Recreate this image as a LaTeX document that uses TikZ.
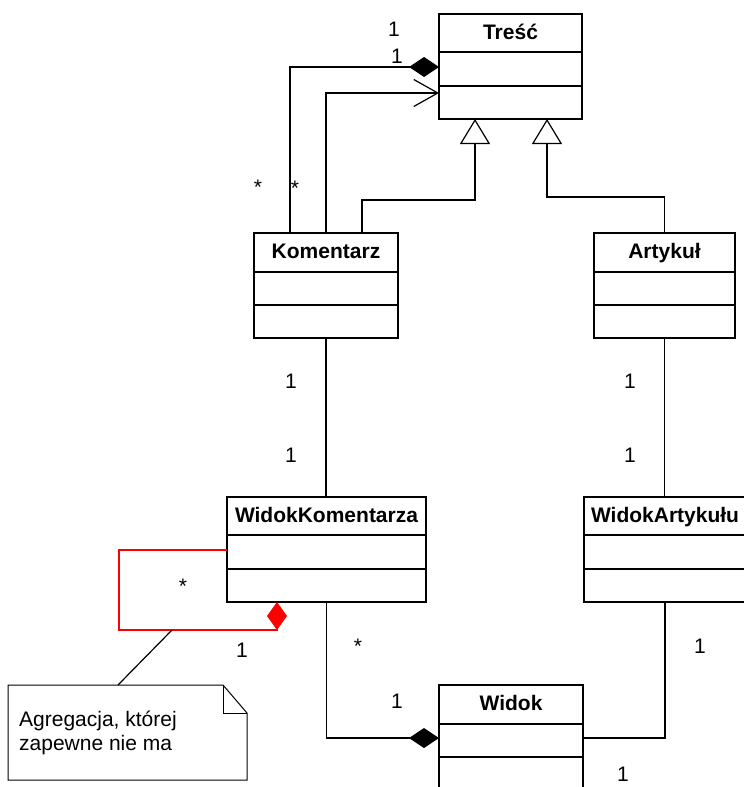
\documentclass[tikz,border=0pt]{standalone}
\usepackage{fontspec}
\setmainfont{Liberation Sans}
\usetikzlibrary{arrows.meta,fit}

\tikzset{
  boxline/.style={draw=black, line width=1.5pt},
  clsbox/.style={boxline, fill=white, inner sep=0pt, outer sep=0pt},
  clstitle/.style={font=\fontsize{21}{24}\selectfont\bfseries, inner sep=0pt, anchor=base},
  conn/.style={draw=black, line width=1.2pt},
  mult/.style={font=\fontsize{21}{24}\selectfont, inner sep=0pt, anchor=base},
  composite/.style={conn, -{Diamond[length=30pt, width=20pt, fill=black]}},
  navig/.style={conn, -{Straight Barb[length=24pt, width=27pt]}},
  general/.style={conn, -{Triangle[open, length=25pt, width=30pt, fill=white]}},
  aggred/.style={draw=red, line width=1.2pt, -{Diamond[length=28pt, width=20pt, fill=red]}},
  noteline/.style={draw=black, line width=1pt},
  notetext/.style={font=\fontsize{21}{24}\selectfont, align=left, inner sep=0pt},
}

% class box: name, left, top, right, first rule, second rule, bottom, title
\newcommand{\umlclass}[8]{%
  \node[clsbox, fit={(#2,#3)(#4,#7)}] (#1) {};
  \node[clstitle] (#1-title) at ({(#2+#4)/2},{#3+25.5}) {#8};
  \draw[boxline] (#1.west |- 0,#5) -- (#1.east |- 0,#5);
  \draw[boxline] (#1.west |- 0,#6) -- (#1.east |- 0,#6);
}

\begin{document}
\begin{tikzpicture}[x=1pt, y=-1pt]
\useasboundingbox (0,0) rectangle (744,787);
\clip (0,0) rectangle (744,787);

% classes
\umlclass{tresc}{439}{14}{582}{52}{86}{119}{Treść}
\umlclass{komentarz}{254}{233}{398}{272}{305}{338}{Komentarz}
\umlclass{artykul}{594}{233}{735}{272}{305}{338}{Artykuł}
\umlclass{widokkom}{227}{497}{426}{535}{569}{602}{WidokKomentarza}
\umlclass{widokart}{584}{497}{746}{535}{569}{602}{WidokArtykułu}
\umlclass{widok}{439}{685}{583}{724}{757}{792}{Widok}

% Komentarz -- Treść
\draw[composite] (komentarz.north -| 290,0) |- (tresc.west |- 0,67);
\draw[navig] (komentarz.north) |- (tresc.west |- 0,93);
\draw[general] (komentarz.north -| 362,0) -- (362,200) -| (tresc.south -| 475,0);
\draw[general] (artykul.north) -- (artykul.north |- 0,197) -| (tresc.south -| 547,0);

% model -- view
\draw[conn] (komentarz.south) -- (komentarz.south |- widokkom.north);
\draw[conn] (artykul.south) -- (artykul.south |- widokart.north);
\draw[composite] (widokkom.south) |- (widok.west |- 0,738);
\draw[conn] (widokart.south) |- (widok.east |- 0,738);

% red aggregation on WidokKomentarza
\draw[aggred] (widokkom.west |- 0,550) -| (119,630) -| (widokkom.south -| 277,0);
\coordinate (aggnote) at (172,630);

% note
\node[inner sep=0pt, outer sep=0pt, fit={(8,685)(247,780)}] (note) {};
\draw[noteline] (note.south west) -- (note.north west) -- (223,685)
  -- (note.east |- 0,713) -- (note.south east) -- cycle;
\draw[noteline] (223,685) -- (223,713) -- (note.east |- 0,713);
\node[notetext, anchor=north west] (notetxt) at (19,711) {Agregacja, której\\zapewne nie ma};
\draw[conn] (note.north -| 118,0) -- (aggnote);

% multiplicities
\node[mult] (m1) at (394,36) {1};
\node[mult] (m2) at (397,63) {1};
\node[mult] (m3) at (258,194) {*};
\node[mult] (m4) at (295,195) {*};
\node[mult] (m5) at (291,388) {1};
\node[mult] (m6) at (291,462) {1};
\node[mult] (m7) at (630,388) {1};
\node[mult] (m8) at (630,462) {1};
\node[mult] (m9) at (183,593) {*};
\node[mult] (m10) at (242,657) {1};
\node[mult] (m11) at (358,653) {*};
\node[mult] (m12) at (397,708) {1};
\node[mult] (m13) at (700,653) {1};
\node[mult] (m14) at (623,781) {1};
\end{tikzpicture}
\end{document}
